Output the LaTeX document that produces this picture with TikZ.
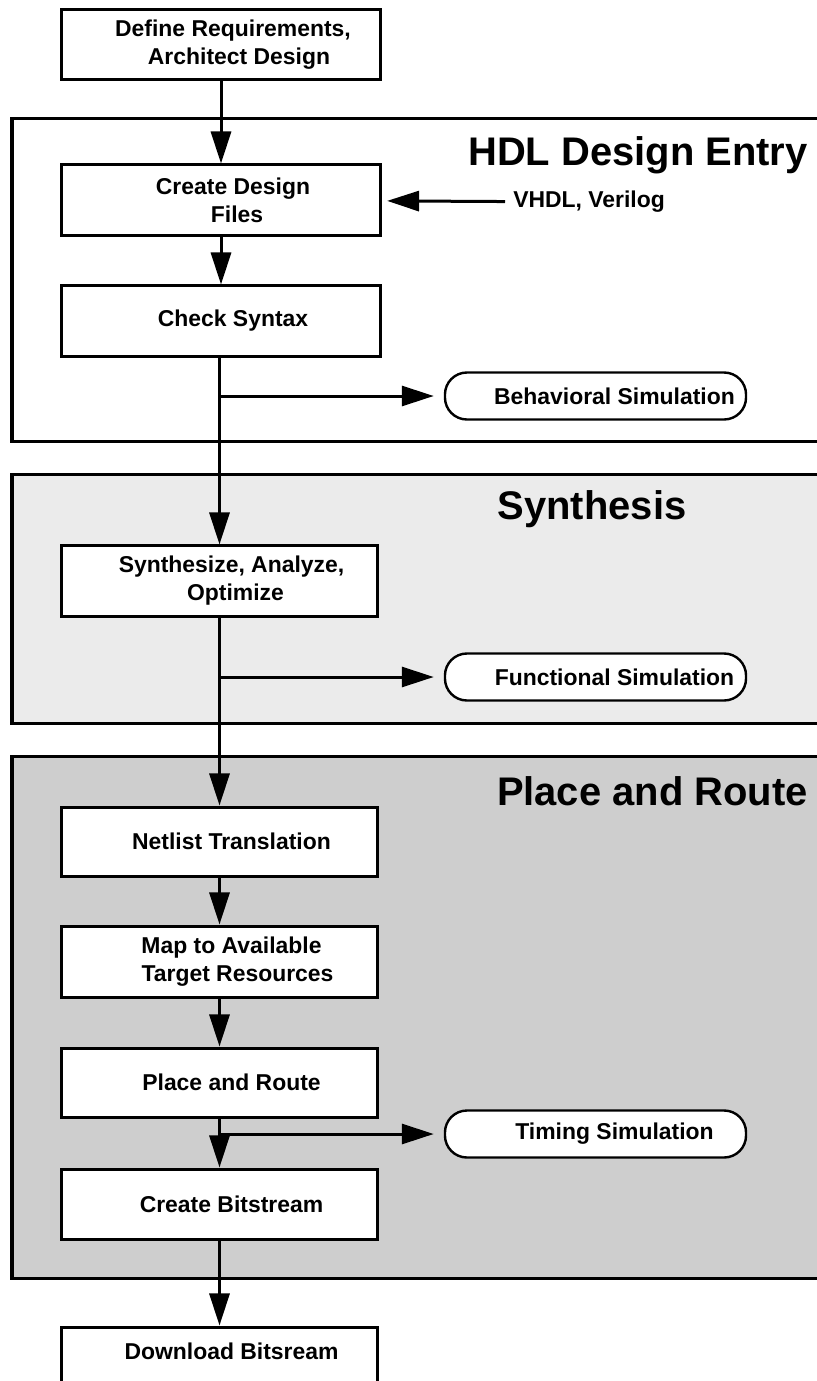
\documentclass[tikz,border=0pt]{standalone}
\usepackage{fontspec}
\setmainfont{Liberation Sans}
\usetikzlibrary{arrows.meta}
\definecolor{synthgray}{HTML}{EBEBEB}
\definecolor{routegray}{HTML}{CECECE}
\begin{document}
\begin{tikzpicture}[x=0.025cm,y=-0.025cm]
			\tikzstyle{arrow} = [-{Triangle[length=0.8cm,width=0.5cm]}, line width=0.075cm]
			\tikzstyle{panel} = [draw=black, line width=0.075cm]
			\tikzstyle{stepbox} = [draw=black, fill=white, line width=0.075cm, minimum width=7.9cm, minimum height=1.75cm, inner sep=0, align=center, font=\bfseries\fontsize{16.3}{20}\selectfont, execute at begin node=\hspace*{0.6cm}]
			\tikzstyle{simbox} = [draw=black, fill=white, line width=0.06cm, rounded corners=0.55cm, minimum width=7.525cm, minimum height=1.175cm, inner sep=0, font=\bfseries\fontsize{16.3}{20}\selectfont, execute at begin node=\hspace*{0.95cm}]
			\tikzstyle{title} = [inner sep=0, font=\bfseries\fontsize{28.4}{34}\selectfont]
			\useasboundingbox (0,0) rectangle (816,1381);
			% the three stages
			\draw[panel, fill=white] (12,118) rectangle (840,441);
			\draw[panel, fill=synthgray] (12,474) rectangle (840,723);
			\draw[panel, fill=routegray] (12,756) rectangle (840,1278);
			\node [title, anchor=east] (t1) at (808,155) {HDL Design Entry};
			\node [title] (t2) at (592,509) {Synthesis};
			\node [title, anchor=east] (t3) at (808,791) {Place and Route};
			% steps
			\node [stepbox, minimum width=7.975cm] (def) at (221,44.5) {Define Requirements,\\\hspace*{0.3cm}Architect Design};
			\node [stepbox, minimum width=7.975cm] (cdf) at (221,200) {Create Design\\\hspace*{0.2cm}Files};
			\node [stepbox, minimum width=7.975cm] (chk) at (221,321) {Check Syntax};
			\node [stepbox] (syn) at (219.5,581) {Synthesize, Analyze,\\\hspace*{0.2cm}Optimize};
			\node [stepbox, minimum height=1.725cm] (net) at (219.5,841.5) {Netlist Translation};
			\node [stepbox, minimum height=1.775cm] (map) at (219.5,961.5) {Map to Available\\\hspace*{0.3cm}Target Resources};
			\node [stepbox, minimum height=1.725cm] (par) at (219.5,1082.5) {Place and Route};
			\node [stepbox] (cbs) at (219.5,1204) {Create Bitstream};
			\node [stepbox, text depth=0.55cm] (dlb) at (219.5,1362) {Download Bitsream};
			% simulations
			\node [simbox] (bsim) at (595.5,396) {Behavioral Simulation};
			\node [simbox] (fsim) at (595.5,677) {Functional Simulation};
			\node [simbox] (tsim) at (595.5,1134) {Timing Simulation};
			\node [inner sep=0.2cm, anchor=west, font=\bfseries\fontsize{16.3}{20}\selectfont] (hdl) at (505,202) {VHDL, Verilog};
			\coordinate (c1) at (chk.south |- bsim.west);
			\coordinate (c2) at (syn.south |- fsim.west);
			\coordinate (c3) at (par.south |- tsim.west);
			% flow
			\draw [arrow] (def.south -| cdf.north) -- (cdf.north);
			\draw [arrow] (cdf) -- (chk);
			\draw [arrow] (chk.south -| syn.north) -- (syn.north);
			\draw [arrow] (syn) -- (net);
			\draw [arrow] (net) -- (map);
			\draw [arrow] (map) -- (par);
			\draw [arrow] (par) -- (cbs);
			\draw [arrow] (cbs) -- (dlb);
			\draw [arrow, shorten >=0.25cm] (c1) -- (bsim);
			\draw [arrow, shorten >=0.25cm] (c2) -- (fsim);
			\draw [arrow, shorten >=0.25cm] (c3) -- (tsim);
			\draw [arrow, shorten >=0.125cm] (hdl) -- (cdf);
\end{tikzpicture}
\end{document}
